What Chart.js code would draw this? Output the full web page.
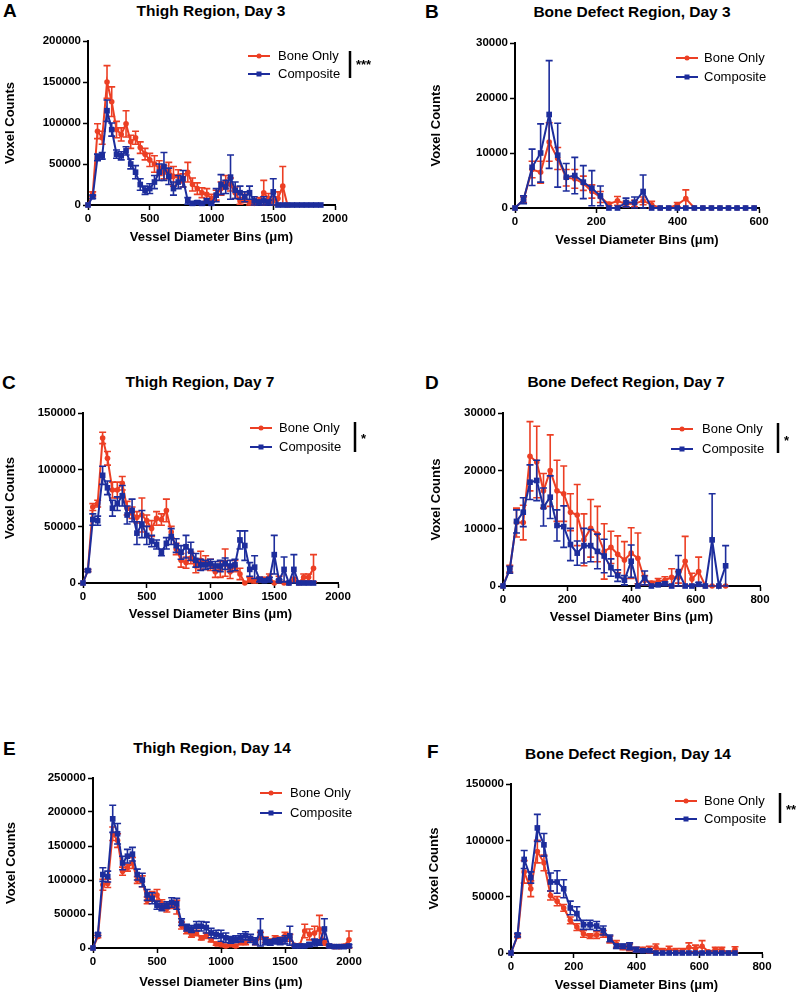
<html>
<head>
<title>Vessel diameter distributions</title>
<script src="https://cdn.jsdelivr.net/npm/chart.js"></script>
<style>
  body { margin: 0; background: #fff; font-family: "Liberation Sans", Arial, sans-serif; }
  #fig { position: relative; width: 800px; height: 994px; overflow: hidden; }
  #fig canvas { position: absolute; }
  .letter { position: absolute; font-weight: bold; font-size: 19px; line-height: 1; }
  .title { position: absolute; font-weight: bold; font-size: 15.5px; line-height: 1; white-space: nowrap; transform: translateX(-50%); }
</style>
</head>
<body>
<div id="fig">
  <div class="letter" style="left:3px;top:1px">A</div>
  <div class="title" style="left:211px;top:3px">Thigh Region, Day 3</div>
  <div class="letter" style="left:425px;top:2px">B</div>
  <div class="title" style="left:632px;top:4px">Bone Defect Region, Day 3</div>
  <div class="letter" style="left:2px;top:373px">C</div>
  <div class="title" style="left:200px;top:374px">Thigh Region, Day 7</div>
  <div class="letter" style="left:425px;top:373px">D</div>
  <div class="title" style="left:626px;top:374px">Bone Defect Region, Day 7</div>
  <div class="letter" style="left:3px;top:739px">E</div>
  <div class="title" style="left:212px;top:740px">Thigh Region, Day 14</div>
  <div class="letter" style="left:427px;top:742px">F</div>
  <div class="title" style="left:628px;top:746px">Bone Defect Region, Day 14</div>
</div>

<script>
    // bin positions (µm)
    const thighBins = [0,38,77,115,154,192,231,269,308,346,385,423,462,500,538,577,615,654,692,731,769,808,846,885,923,962,1000,1038,1077,1115,1154,1192,1231,1269,1308,1346,1385,1423,1462,1500,1538,1577,1615,1654,1692,1731,1769,1808,1846,1885,1923,1962,2000];
    const defectBins = [0,21,42,63,84,105,126,147,168,189,210,231,252,273,294,315,336,357,378,399,420,441,462,483,504,525,546,567,588,609,630,651,672,693,714];

    // tick labels
    const thighXTicks = [0, 500, 1000, 1500, 2000];
    const defectXTicks3 = [0, 200, 400, 600];
    const defectXTicks = [0, 200, 400, 600, 800];
    const aYTicks = [0, 50000, 100000, 150000, 200000];
    const bYTicks = [0, 10000, 20000, 30000];
    const cYTicks = [0, 50000, 100000, 150000];
    const dYTicks = [0, 10000, 20000, 30000];
    const eYTicks = [0, 50000, 100000, 150000, 200000, 250000];
    const fYTicks = [0, 50000, 100000, 150000];

    // A - thigh, day 3
    const aBoneOnly = [0,13000,90000,82000,150000,126000,92000,86000,99000,77000,82000,70000,62000,55000,50000,45000,40000,42000,35000,35000,30000,40000,25000,20000,15000,13000,8000,12000,20000,28000,25000,15000,5000,8000,3000,2000,5000,15000,8000,5000,8000,23000,0];
    const aBoneOnlyErr = [0,3000,9000,8000,20000,18000,10000,8000,16000,8000,8000,7000,7000,8000,10000,9000,8000,10000,12000,8000,8000,12000,8000,7000,6000,7000,5000,6000,8000,8000,8000,7000,4000,5000,3000,2000,4000,15000,6000,5000,8000,24000,0];
    const aComposite = [0,10000,58000,60000,115000,92000,62000,60000,66000,50000,40000,25000,18000,20000,28000,40000,47000,35000,20000,28000,32000,5000,2000,3000,2000,5000,2000,12000,25000,22000,34000,18000,15000,10000,15000,5000,3000,5000,3000,16000,0,0,0,0,0,0,0,0,0,0];
    const aCompositeErr = [0,2000,4000,4000,13000,8000,5000,5000,5000,6000,8000,7000,5000,6000,8000,10000,17000,10000,8000,8000,10000,4000,2000,2000,2000,3000,2000,8000,12000,8000,27000,10000,8000,6000,8000,5000,3000,5000,3000,16000,0,0,0,0,0,0,0,0,0,0];

    // B - bone defect, day 3
    const bBoneOnly = [0,1500,7000,6500,12000,9000,5500,5300,4500,3000,2000,700,1300,700,800,1300,600,0,0,600,1700,0,0,0,0,0,0,0,0];
    const bBoneOnlyErr = [0,500,1500,2000,3500,2000,1500,1700,1300,1200,1000,300,800,500,600,700,600,0,0,400,1600,0,0,0,0,0,0,0,0];
    const bComposite = [0,1500,7400,10000,17000,9600,5600,5900,4700,3600,2200,0,0,1000,1000,3000,0,0,0,0,0,0,0,0,0,0,0,0,0];
    const bCompositeErr = [0,700,3300,5300,9800,5800,2500,3300,3000,3200,1800,0,0,800,1000,3000,0,0,0,0,0,0,0,0,0,0,0,0,0];

    // C - thigh, day 7
    const cBoneOnly = [0,11000,67000,70000,128000,110000,82000,82000,88000,66000,62000,58000,60000,55000,48000,57000,56000,64000,45000,30000,20000,18000,22000,15000,20000,18000,16000,10000,12000,18000,10000,15000,8000,0,3000,2000,3000,3000,5000,0,3000,0,0,3000,0,5000,5000,13000];
    const cBoneOnlyErr = [0,1000,3000,3000,5000,6000,7000,7000,6000,6000,5000,5000,15000,5000,7000,6000,5000,10000,5000,5000,6000,5000,5000,6000,8000,6000,5000,5000,7000,12000,6000,5000,5000,0,2000,2000,2000,2000,3000,0,3000,0,0,2000,0,3000,3000,12000];
    const cComposite = [0,11000,56000,55000,95000,84000,66000,70000,77000,60000,64000,44000,52000,42000,37000,34000,27000,35000,41000,33000,27000,32000,28000,20000,16000,16000,17000,15000,15000,17000,15000,16000,38000,33000,12000,14000,3000,2000,3000,25000,2000,12000,0,12000,0,0,0,0];
    const cCompositeErr = [0,1000,5000,4000,8000,6000,7000,6000,9000,8000,10000,10000,12000,8000,5000,4000,3000,5000,7000,6000,6000,10000,8000,6000,5000,4000,4000,4000,5000,5000,5000,5000,8000,13000,6000,10000,2000,1000,2000,17000,1000,11000,0,13000,0,0,0,0];

    // D - bone defect, day 7
    const dBoneOnly = [0,3000,11000,11000,22500,21500,16500,20000,16500,16000,12800,12300,8000,10000,9000,6000,6700,5500,4500,5700,4800,1000,500,800,1000,1500,1500,4300,1200,2500,0,0,0,0];
    const dBoneOnlyErr = [0,600,2500,3000,6000,6200,3000,6200,5300,4800,3200,5300,4500,5000,4800,4800,2800,3200,3200,4400,4400,800,300,500,600,1500,1000,4300,1000,2500,0,0,0,0];
    const dComposite = [0,2800,11200,12800,18000,18300,13700,15400,10500,10300,7200,5700,7000,7000,6000,5200,3200,1800,1000,4300,0,1400,0,200,400,0,2500,0,0,300,0,8000,0,3500];
    const dCompositeErr = [0,600,2000,2500,3000,3500,3300,3700,2700,3600,2800,2100,3000,2800,3000,2900,1500,1000,800,2800,0,1200,0,200,300,0,2800,0,0,300,0,8000,0,3500];

    // E - thigh, day 14
    const eBoneOnly = [0,17000,93000,95000,168000,158000,113000,118000,125000,100000,98000,70000,76000,78000,65000,58000,63000,60000,33000,25000,20000,22000,15000,18000,12000,6000,5000,3000,5000,3000,8000,8000,12000,8000,18000,12000,10000,14000,12000,18000,15000,4000,4000,25000,20000,22000,28000,8000,3000,2000,2000,3000,12000];
    const eBoneOnlyErr = [0,2000,8000,6000,10000,10000,6000,5000,8000,5000,8000,5000,7000,8000,6000,5000,5000,10000,5000,4000,4000,4000,3000,4000,3000,2000,2000,2000,2000,2000,3000,3000,3000,3000,5000,4000,3000,4000,4000,5000,5000,2000,2000,10000,8000,10000,20000,4000,2000,1000,1000,2000,13000];
    const eComposite = [0,20000,108000,105000,190000,168000,125000,135000,138000,108000,100000,78000,73000,63000,60000,63000,67000,65000,38000,30000,28000,32000,32000,30000,22000,20000,18000,15000,12000,13000,15000,18000,14000,10000,23000,10000,8000,10000,10000,12000,18000,3000,3000,3000,5000,8000,8000,28000,3000,2000,2000,2000,3000];
    const eCompositeErr = [0,2000,10000,8000,20000,15000,10000,10000,10000,8000,10000,8000,8000,6000,5000,5000,7000,8000,5000,5000,5000,7000,7000,8000,7000,6000,8000,7000,5000,5000,6000,6000,6000,5000,20000,5000,4000,4000,5000,6000,14000,2000,2000,2000,3000,5000,4000,15000,2000,1000,1000,1000,2000];

    // F - bone defect, day 14
    const fBoneOnly = [0,15000,72000,57000,90000,80000,51000,46000,40000,29000,23000,17000,15000,16000,17000,12000,8000,5000,5000,3000,3000,3000,5000,2000,3000,2000,2000,5000,4000,6000,1000,3000,3000,0,3000];
    const fBoneOnlyErr = [0,1500,10000,7000,10000,7000,4000,4000,3000,3000,3000,3000,2000,3000,3000,3000,3000,2000,3000,2000,2000,3000,3000,2000,3000,2000,2000,4000,3000,5000,1000,2000,2000,0,2500];
    const fComposite = [0,16000,83000,67000,111000,96000,63000,63000,57000,40000,35000,25000,25000,24000,20000,13000,6000,6000,6000,3000,2000,2000,0,0,0,0,0,0,0,0,0,0,0,0,0];
    const fCompositeErr = [0,1500,8000,5000,12000,10000,8000,10000,8000,6000,6000,4000,4000,4000,4000,3000,2000,2000,3000,2000,1000,1000,0,0,0,0,0,0,0,0,0,0,0,0,0];

    const RED = '#ec3f24';
    const BLUE = '#1d2d9c';
    const FONT = '"Liberation Sans", Arial, sans-serif';

    // layout of each panel (page pixels)
    const panels = [
        { bins: thighBins, bone: aBoneOnly, boneErr: aBoneOnlyErr, comp: aComposite, compErr: aCompositeErr,
          xTicks: thighXTicks, yTicks: aYTicks,
          box: { left: 0, top: 20, w: 400, h: 230 }, area: { L: 88, T: 41, R: 335, B: 205 }, yTitleX: 10, xTitleY: 237,
          legend: { x0: 248, x1: 270, tx: 278, y: [56, 74] }, sig: { x: 350, y0: 51, y1: 78, tx: 356, ty: 68.5, text: '***' } },
        { bins: defectBins, bone: bBoneOnly, boneErr: bBoneOnlyErr, comp: bComposite, compErr: bCompositeErr,
          xTicks: defectXTicks3, yTicks: bYTicks,
          box: { left: 400, top: 20, w: 400, h: 232 }, area: { L: 515, T: 43, R: 759, B: 208 }, yTitleX: 436, xTitleY: 240,
          legend: { x0: 676, x1: 698, tx: 704, y: [58, 77] }, sig: null },
        { bins: thighBins, bone: cBoneOnly, boneErr: cBoneOnlyErr, comp: cComposite, compErr: cCompositeErr,
          xTicks: thighXTicks, yTicks: cYTicks,
          box: { left: 0, top: 392, w: 400, h: 236 }, area: { L: 83, T: 413, R: 338, B: 583 }, yTitleX: 10, xTitleY: 614,
          legend: { x0: 250, x1: 272, tx: 279, y: [428, 447] }, sig: { x: 355, y0: 422, y1: 452, tx: 361, ty: 442.5, text: '*' } },
        { bins: defectBins, bone: dBoneOnly, boneErr: dBoneOnlyErr, comp: dComposite, compErr: dCompositeErr,
          xTicks: defectXTicks, yTicks: dYTicks,
          box: { left: 400, top: 392, w: 400, h: 236 }, area: { L: 503, T: 413, R: 760, B: 586 }, yTitleX: 436, xTitleY: 617,
          legend: { x0: 671, x1: 693, tx: 702, y: [429, 449] }, sig: { x: 778, y0: 423, y1: 453, tx: 784, ty: 444.5, text: '*' } },
        { bins: thighBins, bone: eBoneOnly, boneErr: eBoneOnlyErr, comp: eComposite, compErr: eCompositeErr,
          xTicks: thighXTicks, yTicks: eYTicks,
          box: { left: 0, top: 757, w: 400, h: 237 }, area: { L: 93, T: 778, R: 349, B: 948 }, yTitleX: 11, xTitleY: 982,
          legend: { x0: 260, x1: 282, tx: 290, y: [793, 813] }, sig: null },
        { bins: defectBins, bone: fBoneOnly, boneErr: fBoneOnlyErr, comp: fComposite, compErr: fCompositeErr,
          xTicks: defectXTicks, yTicks: fYTicks,
          box: { left: 400, top: 762, w: 400, h: 232 }, area: { L: 511, T: 784, R: 762, B: 953 }, yTitleX: 434, xTitleY: 985,
          legend: { x0: 675, x1: 697, tx: 704, y: [801, 819] }, sig: { x: 780, y0: 793, y1: 823, tx: 786, ty: 814, text: '**' } }
    ];

    // mean ± SEM bars, drawn just under each line
    const errorBars = {
        id: 'errorBars',
        beforeDatasetDraw(chart, args) {
            const ds = chart.data.datasets[args.index];
            const yScale = chart.scales.y;
            const ctx = chart.ctx;
            ctx.save();
            ctx.strokeStyle = ds.borderColor;
            ctx.lineWidth = 1.6;
            args.meta.data.forEach((pt, i) => {
                const e = ds.errors[i];
                if (!e) return;
                const v = ds.data[i].y;
                const top = yScale.getPixelForValue(v + e);
                const bot = yScale.getPixelForValue(Math.max(v - e, 0));
                ctx.beginPath();
                ctx.moveTo(pt.x, top); ctx.lineTo(pt.x, bot);
                ctx.moveTo(pt.x - 3.5, top); ctx.lineTo(pt.x + 3.5, top);
                ctx.moveTo(pt.x - 3.5, bot); ctx.lineTo(pt.x + 3.5, bot);
                ctx.stroke();
            });
            ctx.restore();
        }
    };

    // legend with line + marker, and the significance bracket
    function decor(p) {
        return {
            id: 'decor',
            afterDraw(chart) {
                const ctx = chart.ctx;
                const ox = p.box.left, oy = p.box.top;
                ctx.save();
                chart.data.datasets.slice().reverse().forEach((ds, k) => {
                    const y = p.legend.y[k] - oy;
                    ctx.strokeStyle = ds.borderColor;
                    ctx.lineWidth = 2;
                    ctx.beginPath();
                    ctx.moveTo(p.legend.x0 - ox, y);
                    ctx.lineTo(p.legend.x1 - ox, y);
                    ctx.stroke();
                    const cx = (p.legend.x0 + p.legend.x1) / 2 - ox;
                    ctx.fillStyle = ds.borderColor;
                    if (ds.pointStyle === 'circle') {
                        ctx.beginPath();
                        ctx.arc(cx, y, 2.5, 0, Math.PI * 2);
                        ctx.fill();
                    } else {
                        ctx.fillRect(cx - 2.5, y - 2.5, 5, 5);
                    }
                    ctx.fillStyle = '#000';
                    ctx.font = '13px ' + FONT;
                    ctx.textBaseline = 'middle';
                    ctx.textAlign = 'left';
                    ctx.fillText(ds.label, p.legend.tx - ox, y + 0.5);
                });
                if (p.sig) {
                    ctx.strokeStyle = '#000';
                    ctx.lineWidth = 2.5;
                    ctx.beginPath();
                    ctx.moveTo(p.sig.x - ox, p.sig.y0 - oy);
                    ctx.lineTo(p.sig.x - ox, p.sig.y1 - oy);
                    ctx.stroke();
                    ctx.fillStyle = '#000';
                    ctx.font = 'bold 13px ' + FONT;
                    ctx.textBaseline = 'alphabetic';
                    ctx.textAlign = 'left';
                    ctx.fillText(p.sig.text, p.sig.tx - ox, p.sig.ty - oy);
                }
                ctx.restore();
            }
        };
    }

    const fig = document.getElementById('fig');
    const tickFont = { family: FONT, size: 11.5, weight: 'bold' };
    const titleFont = { family: FONT, size: 13, weight: 'bold', lineHeight: 1.2 };
    const half = 13 * 1.2 / 2;

    panels.forEach((p) => {
        const canvas = document.createElement('canvas');
        canvas.width = p.box.w;
        canvas.height = p.box.h;
        canvas.style.left = p.box.left + 'px';
        canvas.style.top = p.box.top + 'px';
        fig.appendChild(canvas);

        const yWidth = p.area.L - p.box.left;
        const xHeight = p.box.top + p.box.h - p.area.B;
        const toPoints = (vals) => vals.map((v, i) => ({ x: p.bins[i], y: v }));

        const axisGrid = { drawOnChartArea: false, drawTicks: true, tickLength: 5, tickWidth: 1.5, tickColor: '#000' };
        const axisBorder = { display: true, color: '#000', width: 2 };

        new Chart(canvas.getContext('2d'), {
            type: 'line',
            data: {
                datasets: [
                    {
                        label: 'Composite',
                        data: toPoints(p.comp),
                        errors: p.compErr,
                        borderColor: BLUE,
                        backgroundColor: BLUE,
                        pointStyle: 'rect',
                        pointRadius: 4,
                        pointBorderWidth: 0,
                        borderWidth: 2,
                        tension: 0,
                        clip: false,
                        order: 0
                    },
                    {
                        label: 'Bone Only',
                        data: toPoints(p.bone),
                        errors: p.boneErr,
                        borderColor: RED,
                        backgroundColor: RED,
                        pointStyle: 'circle',
                        pointRadius: 2.8,
                        pointBorderWidth: 0,
                        borderWidth: 2,
                        tension: 0,
                        clip: false,
                        order: 1
                    }
                ]
            },
            options: {
                responsive: false,
                animation: false,
                devicePixelRatio: 1,
                layout: {
                    padding: {
                        left: 0,
                        top: p.area.T - p.box.top,
                        right: p.box.left + p.box.w - p.area.R,
                        bottom: 0
                    }
                },
                plugins: { legend: { display: false }, tooltip: { enabled: false } },
                scales: {
                    x: {
                        type: 'linear',
                        min: 0,
                        max: p.xTicks[p.xTicks.length - 1],
                        afterBuildTicks: (s) => { s.ticks = p.xTicks.map(v => ({ value: v })); },
                        afterFit: (s) => { s.height = xHeight; },
                        grid: axisGrid,
                        border: axisBorder,
                        ticks: { color: '#000', font: tickFont, padding: 2, maxRotation: 0, callback: (v) => String(v) },
                        title: {
                            display: true,
                            text: 'Vessel Diameter Bins (\u03bcm)',
                            color: '#000',
                            font: titleFont,
                            padding: { top: 0, bottom: p.box.top + p.box.h - p.xTitleY - half }
                        }
                    },
                    y: {
                        min: 0,
                        max: p.yTicks[p.yTicks.length - 1],
                        afterBuildTicks: (s) => { s.ticks = p.yTicks.map(v => ({ value: v })); },
                        afterFit: (s) => { s.width = yWidth; },
                        grid: axisGrid,
                        border: axisBorder,
                        ticks: { color: '#000', font: tickFont, padding: 2, callback: (v) => String(v) },
                        title: {
                            display: true,
                            text: 'Voxel Counts',
                            color: '#000',
                            font: titleFont,
                            padding: { top: p.yTitleX - p.box.left - half, bottom: 0 }
                        }
                    }
                }
            },
            plugins: [errorBars, decor(p)]
        });
    });
</script>
</body>
</html>
